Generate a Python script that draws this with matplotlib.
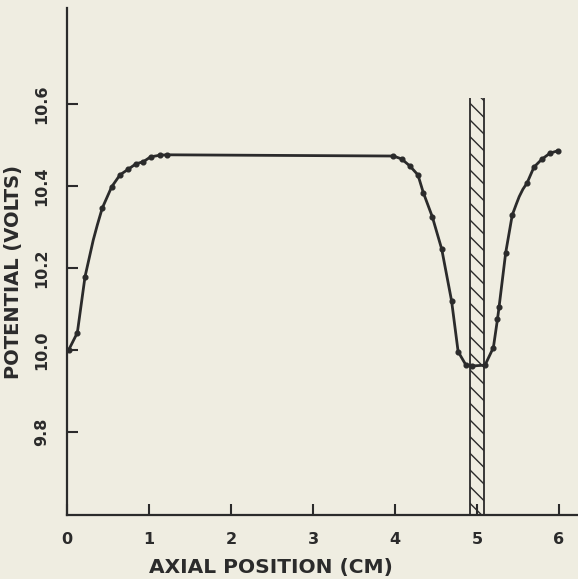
import numpy as np
import matplotlib.pyplot as plt

axial_cm = [0.02, 0.126, 0.22, 0.43, 0.545, 0.646, 0.748, 0.841, 0.93, 1.02,
            1.134, 1.22, 3.98, 4.08, 4.18, 4.28, 4.345, 4.455, 4.57, 4.69,
            4.77, 4.866, 4.935, 5.098, 5.20, 5.25, 5.27, 5.35, 5.43, 5.61,
            5.695, 5.79, 5.89, 5.99]
potential_v = [10.00, 10.042, 10.179, 10.346, 10.398, 10.427, 10.441, 10.454,
               10.459, 10.471, 10.475, 10.476, 10.473, 10.466, 10.449, 10.427,
               10.384, 10.325, 10.246, 10.12, 9.996, 9.963, 9.961, 9.963,
               10.006, 10.075, 10.106, 10.237, 10.329, 10.407, 10.446, 10.465,
               10.48, 10.486]
# extra positions of the drawn curve between dots
trace_x = [0.32, 0.37, 5.48, 5.515, 5.56]
trace_y = [10.268, 10.305, 10.356, 10.374, 10.392]

band_x = [4.92, 5.08]      # hatched region
band_top = 10.615

xticks = [0, 1, 2, 3, 4, 5, 6]
xtick_labels = ['0', '1', '2', '3', '4', '5', '6']
yticks = [9.8, 10.0, 10.2, 10.4, 10.6]
ytick_labels = ['9.8', '10.0', '10.2', '10.4', '10.6']

paper = '#efede1'
ink = '#2b2b2b'
plt.rcParams['hatch.linewidth'] = 1.0

fig = plt.figure(figsize=(5.78, 5.79), dpi=100, facecolor=paper)
ax = fig.add_axes([67 / 578, 64 / 579, 511 / 578, 507 / 579], facecolor=paper)

# hatched band
ax.fill_betweenx([9.5, band_top], band_x[0], band_x[1], facecolor=paper,
                 edgecolor=ink, linewidth=0, hatch='\\\\', zorder=1)
ax.vlines(band_x, 9.5, band_top, colors=ink, lw=1.3, zorder=2)

# curve through the dots
cx = np.array(axial_cm + trace_x)
cy = np.array(potential_v + trace_y)
order = np.argsort(cx)
ax.plot(cx[order], cy[order], color=ink, lw=2.0, solid_joinstyle='round',
        solid_capstyle='round', zorder=3)
ax.plot(axial_cm, potential_v, 'o', color=ink, ms=3.4, zorder=4)

ax.set_xlim(0, 6.232)
ax.set_ylim(9.5976, 10.834)

for s in ['top', 'right']:
    ax.spines[s].set_visible(False)
for s in ['left', 'bottom']:
    ax.spines[s].set_linewidth(1.6)
    ax.spines[s].set_color(ink)

ax.set_xticks(xticks)
ax.set_xticklabels(xtick_labels)
ax.set_yticks(yticks)
ax.set_yticklabels(ytick_labels, rotation=90, va='center')
ax.tick_params(axis='both', direction='in', length=8, width=1.5, color=ink,
               labelcolor=ink, labelsize=11.5)
ax.tick_params(axis='x', pad=12)
ax.tick_params(axis='y', pad=13)
for lab in ax.get_xticklabels() + ax.get_yticklabels():
    lab.set_fontweight('bold')

fig.text(271 / 578, 1 - 568 / 579, 'AXIAL POSITION (CM)', ha='center',
         va='center', fontsize=14.5, fontweight='bold', color=ink)
fig.text(14 / 578, 1 - 272 / 579, 'POTENTIAL (VOLTS)', ha='center',
         va='center', rotation=90, fontsize=14, fontweight='bold', color=ink)

fig.savefig('out.png', dpi=100, facecolor=paper)
